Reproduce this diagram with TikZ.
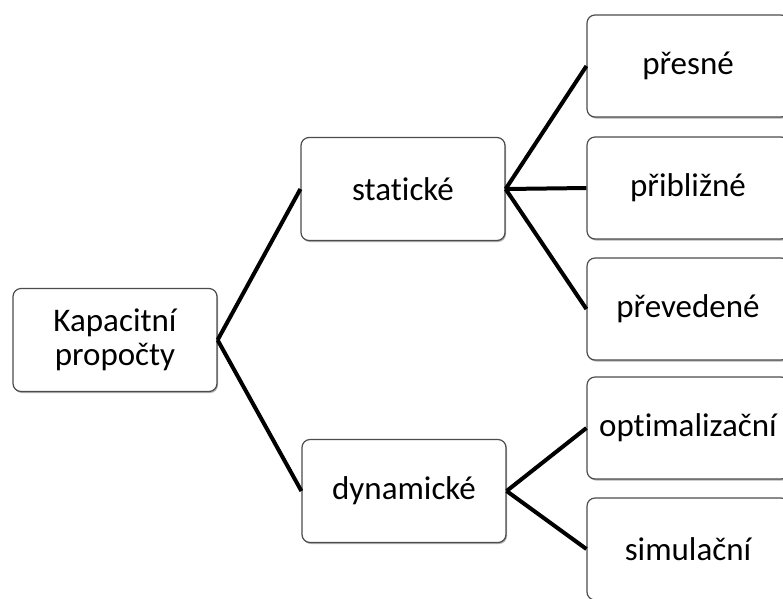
\documentclass[tikz,border=0pt]{standalone}
\usepackage{fontspec}
\setmainfont[Ligatures=NoCommon, Contextuals=NoAlternate]{Carlito}
\usepackage{tikz}
\usetikzlibrary{positioning,shadows}
\tikzset{
    box/.style={draw=black!70, line width=1.2pt, rounded corners=8pt, fill=white,
        minimum width=204pt, minimum height=103pt, align=center,
        font=\fontsize{33}{34}\selectfont,
        drop shadow={shadow xshift=1pt, shadow yshift=-1.5pt, fill=black, opacity=.3}},
    leaf/.style={box, minimum width=202pt, minimum height=102pt, inner sep=4pt},
    link/.style={line width=4pt, black}
}

\begin{document}
\begin{tikzpicture}[x=1pt, y=-1pt]
    \useasboundingbox (0,0) rectangle (783,598);
    \clip (0,0) rectangle (783,598);
    \fill[white] (0,0) rectangle (783,598);

    \node[box] (root) at (115,340) {Kapacitní\\propočty};
    \node[box] (stat) at (403,189) {statické};
    \node[box] (dyn) at (404,491) {dynamické};

    \node[leaf] (presne) at (688,66) {přesné};
    \node[leaf] (pribl) at (688,188) {přibližné};
    \node[leaf] (preved) at (688,309) {převedené};
    \node[leaf] (optim) at (688,428) {optimalizační};
    \node[leaf] (simul) at (688,549) {simulační};

    \draw[link] (root.east) -- (stat.west);
    \draw[link] (root.east) -- (dyn.west);
    \draw[link] (stat.east) -- (presne.west);
    \draw[link] (stat.east) -- (pribl.west);
    \draw[link] (stat.east) -- (preved.west);
    \draw[link] (dyn.east) -- (optim.west);
    \draw[link] (dyn.east) -- (simul.west);
\end{tikzpicture}
\end{document}
